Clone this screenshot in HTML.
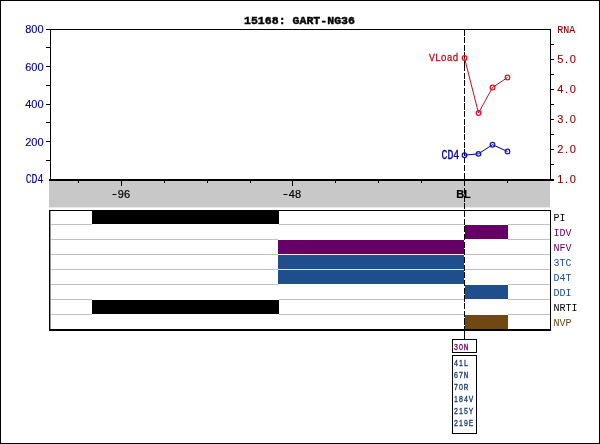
<!DOCTYPE html>
<html>
<head>
<meta charset="utf-8">
<title>15168: GART-NG36</title>
<style>
html,body{margin:0;padding:0;background:#fff;}
body{width:600px;height:444px;overflow:hidden;}
svg{display:block;}
.sans{font-family:"Liberation Sans",Arial,sans-serif;font-size:11px;}
.mono{font-family:"Liberation Mono","DejaVu Sans Mono",monospace;}
</style>
</head>
<body>
<svg width="600" height="444" viewBox="0 0 600 444">
<rect x="0" y="0" width="600" height="444" fill="#ffffff"/>
<!-- outer border -->
<g shape-rendering="crispEdges">
<rect x="0" y="0" width="600" height="1" fill="#000"/>
<rect x="0" y="0" width="1" height="444" fill="#000"/>
<rect x="599" y="0" width="1" height="444" fill="#000"/>
<rect x="0" y="443" width="600" height="1" fill="#000"/>

<!-- gray band -->
<rect x="49" y="181" width="501" height="26.4" fill="#c8c8c8" shape-rendering="auto"/>

<!-- top plot frame -->
<rect x="50" y="29" width="501" height="1" fill="#000"/>
<rect x="50" y="29" width="1" height="151" fill="#000"/>
<rect x="550" y="29" width="1" height="151" fill="#000"/>
<rect x="49" y="179" width="502" height="2" fill="#000"/>

<!-- left ticks -->
<g fill="#000">
<rect x="46" y="29" width="4" height="1"/>
<rect x="46" y="47" width="4" height="1"/>
<rect x="46" y="66" width="4" height="1"/>
<rect x="46" y="85" width="4" height="1"/>
<rect x="46" y="104" width="4" height="1"/>
<rect x="46" y="122" width="4" height="1"/>
<rect x="46" y="141" width="4" height="1"/>
<rect x="46" y="160" width="4" height="1"/>
</g>
<!-- right ticks -->
<g fill="#000">
<rect x="551" y="44" width="3" height="1"/>
<rect x="551" y="59" width="3" height="1"/>
<rect x="551" y="74" width="3" height="1"/>
<rect x="551" y="89" width="3" height="1"/>
<rect x="551" y="104" width="3" height="1"/>
<rect x="551" y="119" width="3" height="1"/>
<rect x="551" y="134" width="3" height="1"/>
<rect x="551" y="149" width="3" height="1"/>
<rect x="551" y="164" width="3" height="1"/>
<rect x="551" y="179" width="3" height="2"/>
</g>
<!-- x ticks -->
<g fill="#000">
<rect x="78" y="181" width="1" height="2"/>
<rect x="121" y="181" width="1" height="5"/>
<rect x="164" y="181" width="1" height="2"/>
<rect x="207" y="181" width="1" height="2"/>
<rect x="250" y="181" width="1" height="2"/>
<rect x="292" y="181" width="1" height="5"/>
<rect x="335" y="181" width="1" height="2"/>
<rect x="378" y="181" width="1" height="2"/>
<rect x="421" y="181" width="1" height="2"/>
<rect x="507" y="181" width="1" height="2"/>
</g>

<!-- drug panel -->
<g fill="#c0c0c0">
<rect x="51" y="224" width="499" height="1"/>
<rect x="51" y="239" width="499" height="1"/>
<rect x="51" y="254" width="499" height="1"/>
<rect x="51" y="269" width="499" height="1"/>
<rect x="51" y="284" width="499" height="1"/>
<rect x="51" y="299" width="499" height="1"/>
<rect x="51" y="314" width="499" height="1"/>
</g>
<!-- bars -->
<rect x="92" y="211" width="187" height="13" fill="#000"/>
<rect x="465" y="225" width="43" height="14" fill="#660066"/>
<rect x="278" y="240" width="186" height="14" fill="#660066"/>
<rect x="278" y="255" width="186" height="14" fill="#1f4e8c"/>
<rect x="278" y="270" width="186" height="14" fill="#1f4e8c"/>
<rect x="465" y="285" width="43" height="14" fill="#1f4e8c"/>
<rect x="92" y="300" width="187" height="14" fill="#000"/>
<rect x="465" y="315" width="43" height="14" fill="#704912"/>
<!-- white outlines of bars over separators -->
<g fill="#fff">
<rect x="92" y="224" width="187" height="1"/>
<rect x="465" y="224" width="43" height="1"/>
<rect x="465" y="239" width="43" height="1"/>
<rect x="278" y="239" width="186" height="1"/>
<rect x="278" y="254" width="186" height="1" fill-opacity="0.7"/>
<rect x="278" y="269" width="186" height="1" fill-opacity="0.6"/>
<rect x="278" y="284" width="186" height="1"/>
<rect x="465" y="284" width="43" height="1"/>
<rect x="465" y="299" width="43" height="1"/>
<rect x="92" y="299" width="187" height="1"/>
<rect x="92" y="314" width="187" height="1"/>
<rect x="465" y="314" width="43" height="1"/>
</g>
<!-- panel border -->
<rect x="49" y="210" width="502" height="1" fill="#000"/>
<rect x="49" y="329" width="502" height="2" fill="#000"/>
<rect x="49" y="210" width="1.4" height="121" fill="#000" shape-rendering="auto"/>
<rect x="550" y="210" width="1" height="121" fill="#000"/>

<!-- dashed BL line -->
<line x1="464.5" y1="29.4" x2="464.5" y2="65" stroke="#000" stroke-width="1" stroke-dasharray="6.1 1.58"/>
<line x1="464.5" y1="65" x2="464.5" y2="331" stroke="#000" stroke-width="1" stroke-dasharray="6.1 1.58"/>
<rect x="464" y="331" width="1" height="8" fill="#000"/>

<!-- mutation boxes -->
<rect x="452.5" y="339.5" width="24" height="13" fill="#fff" stroke="#000" stroke-width="1"/>
<rect x="452.5" y="355.5" width="24" height="78" fill="#fff" stroke="#000" stroke-width="1"/>
</g>

<!-- title -->
<text class="mono" x="244" y="23.7" font-size="11.8px" font-weight="bold" fill="#000" stroke="#000" stroke-width="0.45" textLength="111" lengthAdjust="spacingAndGlyphs">15168: GART-NG36</text>

<!-- left axis labels -->
<g class="sans" fill="#000080" stroke="#000080" stroke-width="0.12" text-anchor="end">
<text x="43.5" y="33">800</text>
<text x="43.5" y="71">600</text>
<text x="43.5" y="108">400</text>
<text x="43.5" y="146">200</text>
<text class="mono" font-size="12px" x="43.5" y="183.3" textLength="17.8" lengthAdjust="spacingAndGlyphs">CD4</text>
</g>

<!-- right axis labels -->
<g fill="#800000" stroke="#800000" stroke-width="0.1">
<text class="mono" font-size="11.5px" x="557.3" y="33" textLength="18" lengthAdjust="spacingAndGlyphs">RNA</text>
<g class="sans">
<text x="557.3 565 569.8" y="63">5.0</text>
<text x="557.3 565 569.8" y="93">4.0</text>
<text x="557.3 565 569.8" y="123">3.0</text>
<text x="557.3 565 569.8" y="153">2.0</text>
<text x="557.3 565 569.8" y="183">1.0</text>
</g>
</g>

<!-- x labels -->
<g class="sans" fill="#000" stroke="#000" stroke-width="0.2">
<text y="198.3"><tspan class="mono" style="font-size:11px" x="110.5" dy="-0.9" textLength="7.9" lengthAdjust="spacingAndGlyphs">-</tspan><tspan x="117.8" dy="0.9">96</tspan></text>
<text y="198.3"><tspan class="mono" style="font-size:11px" x="281.5" dy="-0.9" textLength="7.9" lengthAdjust="spacingAndGlyphs">-</tspan><tspan x="288.8" dy="0.9">48</tspan></text>
<text x="463.5" y="198.3" font-weight="bold" text-anchor="middle">BL</text>
</g>

<!-- VLoad series -->
<g fill="none">
<polyline points="464.5,58 478.5,113 492.5,87.5 507.5,77.5" stroke="#a81830" stroke-width="1"/>
<g stroke="#e8101c" stroke-width="1.25">
<circle cx="464.5" cy="58" r="2.3"/>
<circle cx="478.5" cy="113" r="2.3"/>
<circle cx="492.5" cy="87.5" r="2.3"/>
<circle cx="507.5" cy="77.5" r="2.3"/>
</g>
<polyline points="464.5,155.2 478.5,153.8 492.5,144.7 507.5,151.5" stroke="#000080" stroke-width="1"/>
<g stroke="#1414b4" stroke-width="1.25">
<circle cx="464.5" cy="155.2" r="2.3"/>
<circle cx="478.5" cy="153.8" r="2.3"/>
<circle cx="492.5" cy="144.7" r="2.3"/>
<circle cx="507.5" cy="151.5" r="2.3"/>
</g>
</g>
<g class="mono" font-size="11.5px">
<text x="429" y="61" fill="#b01424" stroke="#b01424" stroke-width="0.3" textLength="29.5" lengthAdjust="spacingAndGlyphs">VLoad</text>
<text x="441.5" y="159" fill="#000080" stroke="#000080" stroke-width="0.3" font-size="12px" textLength="17.8" lengthAdjust="spacingAndGlyphs">CD4</text>
</g>

<!-- drug labels -->
<g class="mono" font-size="11.5px">
<text x="553.6" y="221" fill="#000" textLength="12" lengthAdjust="spacingAndGlyphs">PI</text>
<text x="553.6" y="236" fill="#660066" textLength="18" lengthAdjust="spacingAndGlyphs">IDV</text>
<text x="553.6" y="251" fill="#660066" textLength="18" lengthAdjust="spacingAndGlyphs">NFV</text>
<text x="553.6" y="266" fill="#1f4e8c" textLength="18" lengthAdjust="spacingAndGlyphs">3TC</text>
<text x="553.6" y="281" fill="#1f4e8c" textLength="18" lengthAdjust="spacingAndGlyphs">D4T</text>
<text x="553.6" y="296" fill="#1f4e8c" textLength="18" lengthAdjust="spacingAndGlyphs">DDI</text>
<text x="553.6" y="311" fill="#000" textLength="24" lengthAdjust="spacingAndGlyphs">NRTI</text>
<text x="553.6" y="326" fill="#64481a" textLength="18" lengthAdjust="spacingAndGlyphs">NVP</text>
</g>

<!-- mutation labels -->
<g stroke-width="0.3">
<text transform="translate(454,350) scale(0.84,1)" fill="#660066" stroke="#660066"><tspan style="font-family:'Liberation Sans',Arial,sans-serif;font-size:8.4px" x="0.00 5.95">30</tspan><tspan class="mono" style="font-size:9px" x="11.67">N</tspan></text>
<g fill="#183a70" stroke="#183a70">
<text transform="translate(454,366) scale(0.84,1)"><tspan style="font-family:'Liberation Sans',Arial,sans-serif;font-size:8.4px" x="0.00 5.95">41</tspan><tspan class="mono" style="font-size:9px" x="11.67">L</tspan></text>
<text transform="translate(454,378) scale(0.84,1)"><tspan style="font-family:'Liberation Sans',Arial,sans-serif;font-size:8.4px" x="0.00 5.95">67</tspan><tspan class="mono" style="font-size:9px" x="11.67">N</tspan></text>
<text transform="translate(454,390) scale(0.84,1)"><tspan style="font-family:'Liberation Sans',Arial,sans-serif;font-size:8.4px" x="0.00 5.95">70</tspan><tspan class="mono" style="font-size:9px" x="11.67">R</tspan></text>
<text transform="translate(454,402) scale(0.84,1)"><tspan style="font-family:'Liberation Sans',Arial,sans-serif;font-size:8.4px" x="0.00 5.95 11.90">184</tspan><tspan class="mono" style="font-size:9px" x="17.62">V</tspan></text>
<text transform="translate(454,414) scale(0.84,1)"><tspan style="font-family:'Liberation Sans',Arial,sans-serif;font-size:8.4px" x="0.00 5.95 11.90">215</tspan><tspan class="mono" style="font-size:9px" x="17.62">Y</tspan></text>
<text transform="translate(454,426) scale(0.84,1)"><tspan style="font-family:'Liberation Sans',Arial,sans-serif;font-size:8.4px" x="0.00 5.95 11.90">219</tspan><tspan class="mono" style="font-size:9px" x="17.62">E</tspan></text>
</g>
</g>
</svg>
</body>
</html>
